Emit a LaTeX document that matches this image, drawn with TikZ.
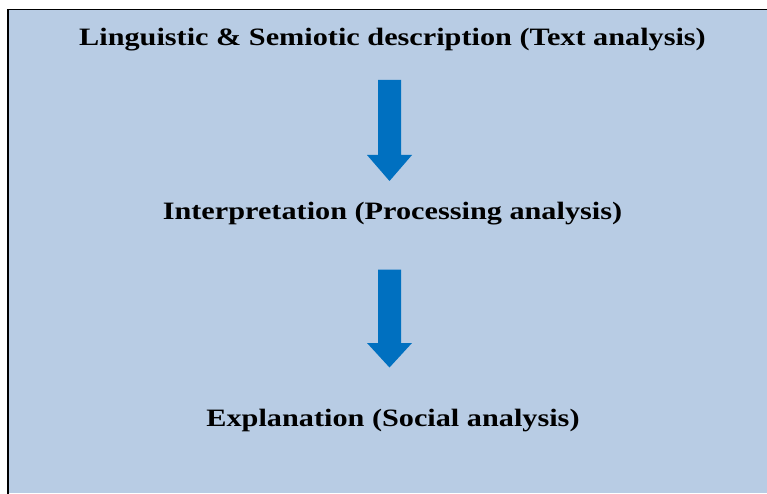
\documentclass[tikz,border=0pt]{standalone}
\usepackage{fontspec}
\setmainfont{Liberation Serif}
\definecolor{bgblue}{HTML}{B8CCE4}
\definecolor{arrowblue}{HTML}{0070C0}
\begin{document}
\begin{tikzpicture}[x=1pt,y=1pt,
  label/.style={anchor=base,inner sep=0pt,xscale=1.21,transform shape,font=\bfseries\fontsize{25}{30}\selectfont},
  blockarrow/.style={fill=arrowblue,draw=none}]
\useasboundingbox (0,0) rectangle (767,493);
\fill[bgblue] (8,483.5) rectangle (767,0);
\draw[line width=1.6pt,line cap=rect] (8,0) -- (8,483.5) -- (767,483.5);
\node[label] (t1) at (392.5,447) {Linguistic \& Semiotic description (Text analysis)};
\node[label] (t2) at (392.5,273) {Interpretation (Processing analysis)};
\node[label] (t3) at (393,66.3) {Explanation (Social analysis)};
% arrow 1 (top y=80, head at 155, tip 181)
\fill[blockarrow] (378,413) -- (401,413) -- (401,338) -- (412,338) -- (389.5,312) -- (367,338) -- (378,338) -- cycle;
% arrow 2 (top y=269.5, head at 343, tip 367.5)
\fill[blockarrow] (378,223.5) -- (401,223.5) -- (401,150) -- (412,150) -- (389.5,125.5) -- (367,150) -- (378,150) -- cycle;
\end{tikzpicture}
\end{document}
